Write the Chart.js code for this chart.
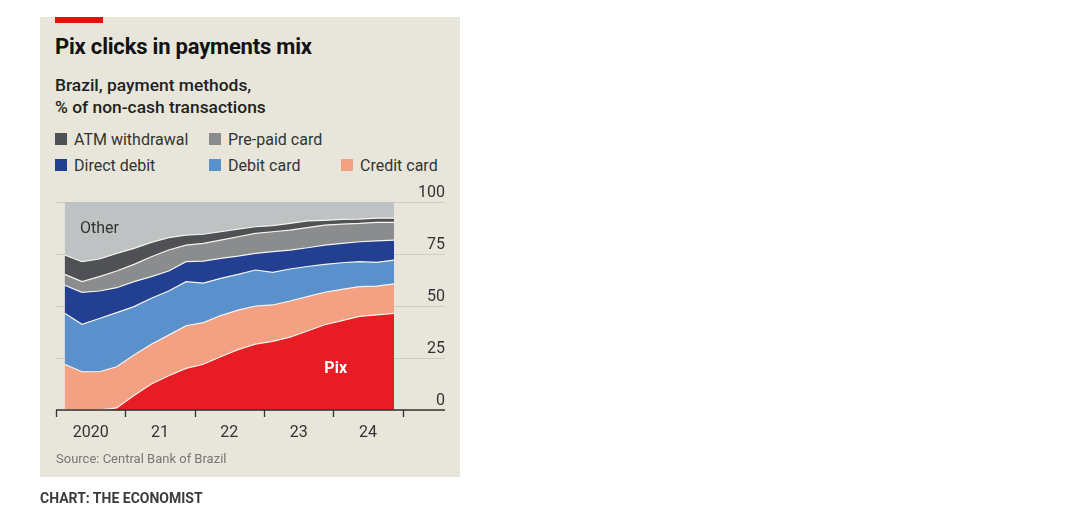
<!DOCTYPE html>
<html>
<head>
<meta charset="utf-8">
<script src="https://cdn.jsdelivr.net/npm/chart.js@4"></script>
<style>
  body { margin: 0; background: #fff; font-family: Roboto, "Open Sans", sans-serif; }
  #panel { position: absolute; left: 40px; top: 17px; width: 420px; height: 460px; background: #e8e6da; }
  #redbar { position: absolute; left: 15px; top: 0; width: 48px; height: 6px; background: #e3120b; }
  .txt { position: absolute; white-space: nowrap; }
  #title { left: 15px; top: 17px; font-size: 22px; font-weight: 700; color: #121212; letter-spacing: -0.2px; }
  #sub { left: 15px; top: 57px; font-size: 17.4px; font-weight: 500; color: #1f1f1f; line-height: 22px; }
  .leg { position: absolute; font-size: 16px; color: #333; white-space: nowrap; }
  .leg i { position: absolute; left: -19px; top: 3px; width: 12px; height: 12px; }
  #source { left: 16px; top: 434px; font-size: 13px; color: #777; }
  #credit { position: absolute; left: 40px; top: 490px; font-size: 14px; font-weight: 700; color: #3b3b3b; }
  #wrap { position: absolute; left: 0; top: 163px; width: 420px; height: 275px; }
</style>
</head>
<body>
<div id="panel">
  <div id="redbar"></div>
  <div class="txt" id="title">Pix clicks in payments mix</div>
  <div class="txt" id="sub">Brazil, payment methods,<br>% of non-cash transactions</div>
  <div id="legend"></div>
  <div id="wrap"><canvas id="chart"></canvas></div>
  <div class="txt" id="source">Source: Central Bank of Brazil</div>
</div>
<div id="credit">CHART: THE ECONOMIST</div>
<script>
// quarterly, Q1 2020 .. Q4 2024, positions in years since start of 2020
const quarters = [0.125, 0.375, 0.625, 0.875, 1.125, 1.375, 1.625, 1.875, 2.125, 2.375,
                  2.625, 2.875, 3.125, 3.375, 3.625, 3.875, 4.125, 4.375, 4.625, 4.875];
const yearLabels = ["2020", "21", "22", "23", "24"];
const yTicks = [0, 25, 50, 75, 100];

// % of non-cash transactions, bottom layer first
const pix =        [0, 0, 0, 1, 7, 12.5, 16.5, 20, 22, 25.6, 29, 31.7, 33, 35, 38, 41, 43, 45, 45.7, 46.5];
const creditCard = [22, 18.4, 18.4, 19.8, 19.4, 19.1, 19.5, 20.5, 20, 19.8, 19, 18.3, 17.5, 17.4, 16.5, 15.6, 15, 14.3, 13.9, 14.1];
const debitCard =  [24.5, 22.8, 25.6, 26, 23.3, 22.1, 21.2, 21.2, 19, 17.9, 17.2, 17.3, 15.7, 15.4, 14.5, 13.4, 12.8, 12, 11.4, 11.5];
const directDebit = [13.5, 15.4, 13.2, 12, 12, 10.4, 9.6, 9.6, 10.6, 9.6, 8.8, 8, 9.9, 9.1, 9, 9.3, 9.3, 9.6, 10.3, 9.6];
const prePaid =    [5.2, 5.1, 6.9, 8, 8.3, 9.6, 10.1, 8, 8.5, 8.8, 9.3, 9.6, 9.6, 9.6, 9.7, 9.6, 9.3, 8.8, 8.9, 8.5];
const atm =        [9.3, 9.6, 8.5, 8.5, 7.7, 6.9, 6, 4.8, 4.4, 4, 3.7, 3.2, 2.9, 3.2, 3.2, 2.3, 2.2, 2.1, 2.0, 2.0];
const other =      [25.5, 28.7, 27.4, 24.7, 22.3, 19.4, 17.1, 15.9, 15.5, 14.3, 13, 11.9, 11.4, 10.3, 9.1, 8.8, 8.4, 8.2, 7.8, 7.8];

const layers = [
  { name: "Pix", data: pix, color: "#e81c24" },
  { name: "Credit card", data: creditCard, color: "#f4a083" },
  { name: "Debit card", data: debitCard, color: "#5a90cb" },
  { name: "Direct debit", data: directDebit, color: "#233f92" },
  { name: "Pre-paid card", data: prePaid, color: "#8a8c8e" },
  { name: "ATM withdrawal", data: atm, color: "#505154" },
  { name: "Other", data: other, color: "#bfc2c3" }
];

// legend, same order as the original
const legendItems = [
  ["ATM withdrawal", 34, 113], ["Pre-paid card", 188, 113],
  ["Direct debit", 34, 139], ["Debit card", 188, 139], ["Credit card", 320, 139]
];
document.getElementById("legend").innerHTML = legendItems.map(([n, x, y]) => {
  const c = layers.find(l => l.name === n).color;
  return `<div class="leg" style="left:${x}px;top:${y}px"><i style="background:${c}"></i>${n}</div>`;
}).join("");

const axisPlugin = {
  id: "axisPlugin",
  afterDraw(chart) {
    const { ctx, chartArea, scales: { x, y } } = chart;
    ctx.save();
    // y labels sit above their gridlines, right aligned
    ctx.font = "16px Roboto";
    ctx.fillStyle = "#333";
    ctx.textAlign = "right";
    ctx.textBaseline = "bottom";
    yTicks.forEach(v => ctx.fillText(String(v), chartArea.right, y.getPixelForValue(v) - 1));
    // x axis line and year ticks
    const y0 = y.getPixelForValue(0);
    ctx.strokeStyle = "#333";
    ctx.lineWidth = 1.3;
    ctx.beginPath();
    ctx.moveTo(chartArea.left, y0);
    ctx.lineTo(chartArea.right, y0);
    for (let i = 0; i <= yearLabels.length; i++) {
      const px = Math.round(x.getPixelForValue(i)) + 0.5;
      ctx.moveTo(px, y0);
      ctx.lineTo(px, y0 + 7);
    }
    ctx.stroke();
    ctx.textAlign = "center";
    ctx.textBaseline = "alphabetic";
    yearLabels.forEach((l, i) => ctx.fillText(l, x.getPixelForValue(i + 0.5), y0 + 27));
    // in-chart labels
    ctx.fillStyle = "#333";
    ctx.textAlign = "left";
    ctx.textBaseline = "middle";
    ctx.fillText("Other", x.getPixelForValue(0.345), y.getPixelForValue(87));
    ctx.fillStyle = "#fff";
    ctx.font = "bold 16px Roboto";
    ctx.fillText("Pix", x.getPixelForValue(3.87), y.getPixelForValue(19.5));
    ctx.restore();
  }
};

new Chart(document.getElementById("chart"), {
  type: "line",
  data: {
    datasets: layers.map((l, i) => ({
      label: l.name,
      data: l.data.map((v, j) => ({ x: quarters[j], y: v })),
      backgroundColor: l.color,
      borderColor: "#f4f4ee",
      borderWidth: l.name === "Other" ? 0 : 1.2,
      pointRadius: 0,
      tension: 0,
      fill: i === 0 ? "origin" : "-1"
    }))
  },
  options: {
    responsive: true,
    maintainAspectRatio: false,
    animation: false,
    layout: { padding: { left: 16, right: 15, top: 22, bottom: 45 } },
    plugins: { legend: { display: false }, tooltip: { enabled: false } },
    scales: {
      x: { type: "linear", min: 0, max: 5.61, display: false },
      y: {
        stacked: true, min: 0, max: 100, position: "right",
        ticks: { display: false, stepSize: 25 },
        border: { display: false },
        grid: { color: "#cfcdc2", lineWidth: 1, drawTicks: false }
      }
    }
  },
  plugins: [axisPlugin]
});
</script>
</body>
</html>
